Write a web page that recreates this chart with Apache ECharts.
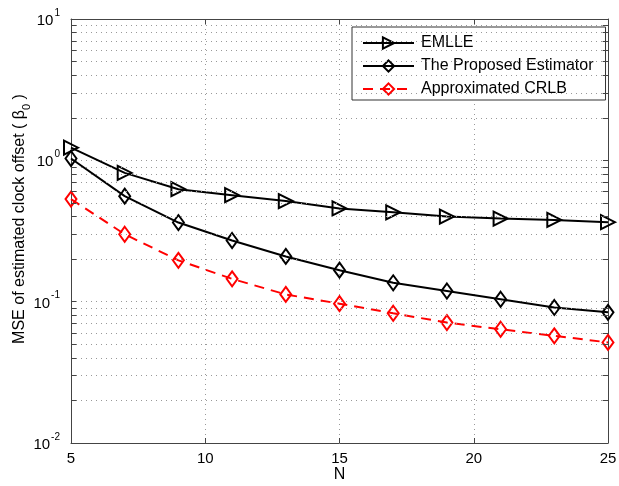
<!DOCTYPE html>
<html>
<head>
<meta charset="utf-8">
<script src="https://cdn.jsdelivr.net/npm/echarts@6/dist/echarts.min.js"></script>
<style>
  html, body { margin: 0; padding: 0; background: #fff; }
  #chart { width: 619px; height: 486px; }
</style>
</head>
<body>
<div id="chart"></div>
<script>
// data
var nValues = [5, 7, 9, 11, 13, 15, 17, 19, 21, 23, 25];
var emlle = [1.23, 0.815, 0.625, 0.567, 0.515, 0.457, 0.429, 0.40, 0.387, 0.379, 0.365];
var proposed = [1.03, 0.558, 0.363, 0.271, 0.209, 0.167, 0.136, 0.119, 0.104, 0.091, 0.084];
var crlb = [0.532, 0.30, 0.196, 0.145, 0.1125, 0.0968, 0.0828, 0.0711, 0.0638, 0.0573, 0.0515];
var decades = [0.01, 0.1, 1];
var xTicks = [5, 10, 15, 20, 25];

var font = 'Liberation Sans, Arial, sans-serif';

function pairs(ys) {
    return nValues.map(function (n, i) { return [n, ys[i]]; });
}

// minor log grid (2..9 in each decade)
var minorVals = [];
decades.forEach(function (d) {
    for (var k = 2; k <= 9; k++) minorVals.push(+(d * k).toPrecision(3));
});
var gridLines = minorVals.map(function (v) { return { yAxis: v }; });
var tickLen = 0.2;
var minorTicks = [];
minorVals.forEach(function (v) {
    minorTicks.push([{ coord: [xTicks[0], v] }, { coord: [xTicks[0] + tickLen, v] }]);
    minorTicks.push([{ coord: [xTicks[4] - tickLen, v] }, { coord: [xTicks[4], v] }]);
});

var myChart = echarts.init(document.getElementById('chart'));

var hollow = { color: 'transparent', borderWidth: 2 };

option = {
    animation: false,
    textStyle: { fontFamily: font },
    grid: { left: 71, right: 11, top: 19, bottom: 43, containLabel: false, outerBoundsMode: 'none' },
    legend: {
        orient: 'vertical',
        left: 352,
        top: 27,
        padding: [8, 12, 3, 10],
        itemWidth: 51,
        itemHeight: 14,
        itemGap: 7,
        backgroundColor: '#fff',
        borderColor: '#333',
        borderWidth: 1,
        borderRadius: 0,
        textStyle: { fontSize: 16, color: '#000', fontFamily: font, padding: [0, 0, 0, 2] },
        data: ['EMLLE', 'The Proposed Estimator', 'Approximated CRLB']
    },
    xAxis: [
        {
            type: 'value',
            min: 5, max: 25, interval: 5,
            name: 'N',
            nameLocation: 'middle',
            nameGap: 24,
            nameMoveOverlap: false,
            nameTextStyle: { fontSize: 16, color: '#000' },
            axisLine: { lineStyle: { color: '#444', width: 1 } },
            axisTick: { inside: true, length: 5, lineStyle: { color: '#444' } },
            axisLabel: { fontSize: 15, color: '#000', margin: 8 },
            splitLine: { show: true, lineStyle: { color: '#999', type: [1, 4], width: 1 } }
        },
        {
            type: 'value',
            position: 'top',
            min: 5, max: 25, interval: 5,
            axisLine: { lineStyle: { color: '#444', width: 1 } },
            axisTick: { inside: true, length: 5, lineStyle: { color: '#444' } },
            axisLabel: { show: false },
            splitLine: { show: false }
        }
    ],
    yAxis: [
        {
            type: 'log',
            logBase: 10,
            min: 0.01, max: 10,
            name: 'MSE of estimated clock offset ( {g|β}{s|0} )',
            nameLocation: 'middle',
            nameGap: 43,
            nameMoveOverlap: false,
            nameTextStyle: {
                fontSize: 16, color: '#000',
                padding: [0, 0, 0, 24],
                rich: {
                    g: { fontSize: 16, color: '#000' },
                    s: { fontSize: 11, color: '#000', verticalAlign: 'bottom', padding: [0, 0, -4, 0] }
                }
            },
            axisLine: { lineStyle: { color: '#444', width: 1 } },
            axisTick: { inside: true, length: 5, lineStyle: { color: '#444' } },
            axisLabel: {
                color: '#000',
                margin: 11,
                formatter: function (v) {
                    var e = Math.round(Math.log10(v));
                    return '{b|10}{e|' + e + '}';
                },
                rich: {
                    b: { fontSize: 15, color: '#000', padding: [4, 0, 0, 0] },
                    e: { fontSize: 10, color: '#000', verticalAlign: 'bottom', padding: [0, 0, 12, 1] }
                }
            },
            splitLine: { show: true, lineStyle: { color: '#999', type: [1, 4], width: 1 } }
        },
        {
            type: 'log',
            logBase: 10,
            position: 'right',
            min: 0.01, max: 10,
            axisLine: { show: true, lineStyle: { color: '#444', width: 1 } },
            axisTick: { show: true, inside: true, length: 5, lineStyle: { color: '#444' } },
            axisLabel: { show: false },
            splitLine: { show: false }
        }
    ],
    series: [
        {
            name: 'grid',
            type: 'line',
            data: [],
            z: 1,
            silent: true,
            markLine: {
                silent: true,
                symbol: ['none', 'none'],
                label: { show: false },
                animation: false,
                data: gridLines.concat(minorTicks.map(function (t) {
                    return [
                        Object.assign({ lineStyle: { type: 'solid', color: '#444', width: 1 } }, t[0]),
                        t[1]
                    ];
                })),
                lineStyle: { color: '#999', type: [1, 4], width: 1 }
            }
        },
        {
            name: 'EMLLE',
            type: 'line',
            data: pairs(emlle),
            symbol: 'triangle',
            symbolSize: 14,
            symbolRotate: -90,
            showAllSymbol: true,
            lineStyle: { color: '#000', width: 2 },
            itemStyle: Object.assign({ borderColor: '#000' }, hollow),
            color: '#000'
        },
        {
            name: 'The Proposed Estimator',
            type: 'line',
            data: pairs(proposed),
            symbol: 'diamond',
            symbolSize: [11, 15],
            lineStyle: { color: '#000', width: 2 },
            itemStyle: Object.assign({ borderColor: '#000' }, hollow),
            color: '#000'
        },
        {
            name: 'Approximated CRLB',
            type: 'line',
            data: pairs(crlb),
            symbol: 'diamond',
            symbolSize: [11, 15],
            lineStyle: { color: '#ff0000', width: 2, type: [10, 7] },
            itemStyle: Object.assign({ borderColor: '#ff0000' }, hollow),
            color: '#ff0000'
        }
    ]
};

myChart.setOption(option);
</script>
</body>
</html>
